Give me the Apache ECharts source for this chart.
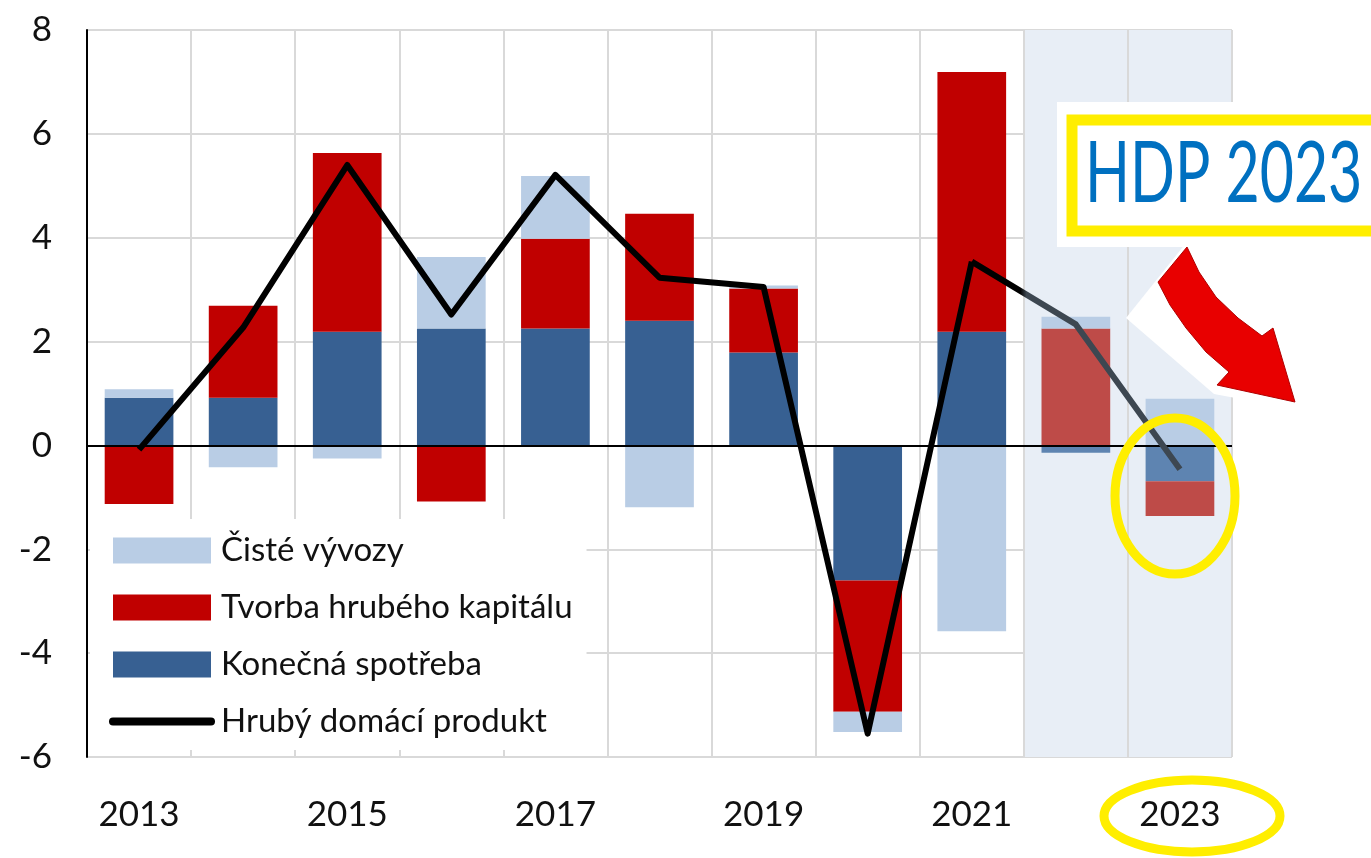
<!DOCTYPE html>
<html style="height: 100%">
<head>
    <meta charset="UTF-8">
    <title>HDP 2023</title>
    <script src="https://cdn.jsdelivr.net/npm/echarts@6/dist/echarts.min.js"></script>
</head>
<body style="height: 100%; margin: 0; background: #fff">
    <div id="main" style="width: 1371px; height: 858px"></div>
    <script type="text/javascript">
        var years = ['2013', '2014', '2015', '2016', '2017', '2018', '2019', '2020', '2021', '2022', '2023'];
        // prispevky k rustu HDP (p.b.)
        var spotreba = [0.92, 0.92, 2.19, 2.25, 2.25, 2.40, 1.79, -2.60, 2.19, -0.14, -0.69];
        var kapital = [-1.13, 1.77, 3.44, -1.08, 1.73, 2.06, 1.23, -2.53, 5.00, 2.25, -0.67];
        var vyvozy = [0.16, -0.42, -0.25, 1.38, 1.21, -1.19, 0.06, -0.39, -3.58, 0.23, 0.90];
        var hdp = [-0.08, 2.27, 5.40, 2.52, 5.21, 3.23, 3.05, -5.55, 3.54, 2.33, -0.46];
        var yTicks = [-6, -4, -2, 0, 2, 4, 6, 8];
        var prognoza = ['2022', '2023'];

        var font = 'Lato, "Noto Sans", sans-serif';

        function isForecast(i) {
            return prognoza.indexOf(years[i]) >= 0;
        }

        function barData(values, color, colorForecast) {
            return values.map(function (v, i) {
                return {value: v, itemStyle: {color: isForecast(i) ? colorForecast : color}};
            });
        }

        // skutecnost (cerna) a odhad (seda), navazuji v roce 2021
        var lastActual = years.indexOf(prognoza[0]) - 1;
        var hdpActual = hdp.map(function (v, i) { return i <= lastActual ? v : null; });
        var hdpForecast = hdp.map(function (v, i) { return i >= lastActual ? v : null; });

        var areaColors = years.map(function (y, i) {
            return isForecast(i) ? '#e8eef6' : 'rgba(0,0,0,0)';
        });

        // cerna do poloviny useku 2021-2022, pak seda
        var forecastColor = new echarts.graphic.LinearGradient(0, 0, 1, 0, [
            {offset: 0, color: '#000'},
            {offset: 0.24, color: '#000'},
            {offset: 0.27, color: '#3d4751'},
            {offset: 1, color: '#3d4751'}
        ]);

        var myChart = echarts.init(document.getElementById('main'));

        myChart.setOption({
            animation: false,
            grid: {left: 87, right: 139, top: 30, bottom: 101},
            legend: {
                orient: 'vertical',
                left: 90,
                top: 519,
                padding: [15, 14, 12, 19],
                backgroundColor: '#fff',
                itemWidth: 98,
                itemHeight: 26,
                itemGap: 24,
                textStyle: {fontFamily: font, fontSize: 33, color: '#111', padding: [0, 0, 0, 5]},
                data: [
                    {name: 'Čisté vývozy', icon: 'rect'},
                    {name: 'Tvorba hrubého kapitálu', icon: 'rect'},
                    {name: 'Konečná spotřeba', icon: 'rect'},
                    {name: 'Hrubý domácí produkt', itemStyle: {opacity: 0}, lineStyle: {width: 8, color: '#000', cap: 'round'}}
                ]
            },
            xAxis: {
                type: 'category',
                data: years,
                axisLine: {show: false},
                axisTick: {show: false},
                axisLabel: {interval: 1, margin: 40, fontFamily: font, fontSize: 35, color: '#111'},
                splitLine: {show: true, interval: 0, lineStyle: {color: '#d9d9d9', width: 2}},
                splitArea: {show: true, interval: 0, areaStyle: {color: areaColors}}
            },
            yAxis: {
                type: 'value',
                min: yTicks[0],
                max: yTicks[yTicks.length - 1],
                interval: 2,
                axisLine: {show: true, lineStyle: {color: '#000', width: 2}},
                axisTick: {show: false},
                axisLabel: {margin: 35, fontFamily: font, fontSize: 35, color: '#111'},
                splitLine: {lineStyle: {color: '#d9d9d9', width: 2}}
            },
            series: [
                {
                    name: 'Konečná spotřeba',
                    type: 'bar',
                    stack: 'hdp',
                    barWidth: '66%',
                    itemStyle: {color: '#376092'},
                    data: barData(spotreba, '#376092', '#5e84b1'),
                    markLine: {
                        silent: true,
                        symbol: 'none',
                        label: {show: false},
                        lineStyle: {color: '#000', width: 2, type: 'solid'},
                        data: [{yAxis: 0}]
                    }
                },
                {
                    name: 'Tvorba hrubého kapitálu',
                    type: 'bar',
                    stack: 'hdp',
                    itemStyle: {color: '#c00000'},
                    data: barData(kapital, '#c00000', '#be4b48')
                },
                {
                    name: 'Čisté vývozy',
                    type: 'bar',
                    stack: 'hdp',
                    itemStyle: {color: '#b9cde5'},
                    data: barData(vyvozy, '#b9cde5', '#b9cde5')
                },
                {
                    name: 'Hrubý domácí produkt',
                    type: 'line',
                    symbol: 'none',
                    showSymbol: false,
                    z: 5,
                    itemStyle: {color: '#000'},
                    lineStyle: {color: '#000', width: 6, join: 'round'},
                    data: hdpActual
                },
                {
                    name: 'HDP odhad',
                    type: 'line',
                    symbol: 'none',
                    showSymbol: false,
                    z: 5,
                    itemStyle: {color: '#3d4751'},
                    lineStyle: {color: forecastColor, width: 6, join: 'round'},
                    data: hdpForecast
                }
            ],
            graphic: [
                {
                    type: 'polygon', z: 20, silent: true,
                    shape: {points: [[1190, 238], [1126, 318], [1214, 394], [1300, 410], [1300, 240]]},
                    style: {fill: '#fff'}
                },
                {
                    type: 'polygon', z: 21, silent: true,
                    shape: {points: [
                        [1187, 247], [1199, 272], [1216, 297], [1238, 318], [1262, 336],
                        [1273, 328], [1295, 402], [1217, 385],
                        [1229, 372], [1206, 352], [1186, 328], [1170, 305], [1158, 282]
                    ]},
                    style: {fill: '#e80000', stroke: '#b00000', lineWidth: 1}
                },
                {
                    type: 'rect', z: 20, silent: true,
                    shape: {x: 1057, y: 102, width: 330, height: 145},
                    style: {fill: '#fff'}
                },
                {
                    type: 'rect', z: 21, silent: true,
                    shape: {x: 1072, y: 120, width: 330, height: 111},
                    style: {fill: '#fff', stroke: '#ffee00', lineWidth: 11}
                },
                {
                    type: 'text', z: 22, silent: true,
                    x: 1085, y: 174, scaleY: 1.45,
                    style: {text: 'HDP 2023', font: '59px ' + font, fill: '#0070c0', align: 'left', verticalAlign: 'middle'}
                },
                {
                    type: 'ellipse', z: 21, silent: true,
                    shape: {cx: 1175, cy: 496, rx: 60, ry: 78},
                    style: {fill: 'none', stroke: '#ffee00', lineWidth: 9}
                },
                {
                    type: 'ellipse', z: 21, silent: true,
                    shape: {cx: 1192, cy: 816, rx: 88, ry: 36},
                    style: {fill: 'none', stroke: '#ffee00', lineWidth: 9}
                }
            ]
        });
    </script>
</body>
</html>
